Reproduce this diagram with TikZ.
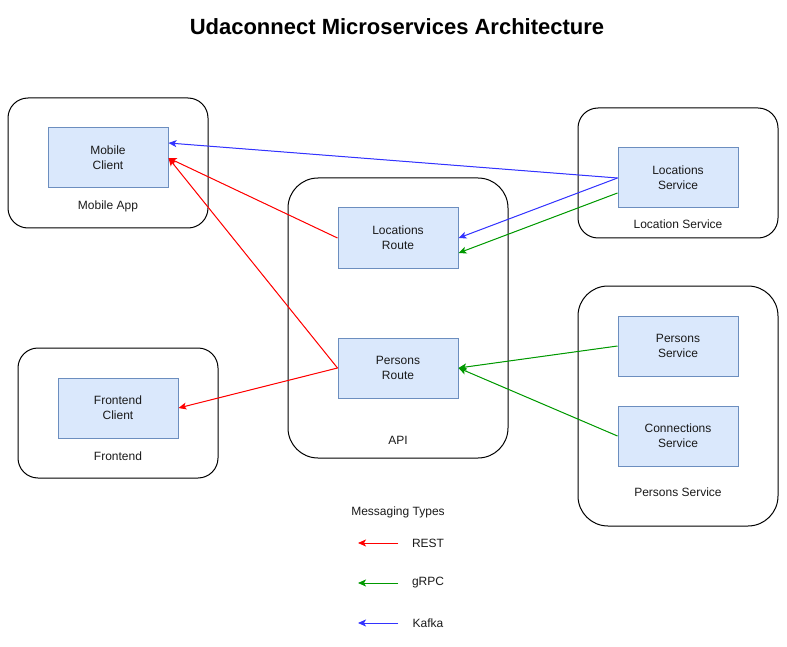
\documentclass[tikz,border=0pt]{standalone}
\usepackage{fontspec}
\setmainfont{Liberation Sans}
\usetikzlibrary{arrows.meta}
\definecolor{boxfill}{HTML}{DAE8FC}
\definecolor{boxdraw}{HTML}{6C8EBF}
\definecolor{restc}{HTML}{FF0000}
\definecolor{grpcc}{HTML}{009900}
\definecolor{kafkac}{HTML}{3333FF}
\definecolor{txt}{HTML}{1A1A1A}
\begin{document}
\begin{tikzpicture}[x=1pt,y=-1pt,
  font=\fontsize{12}{15}\selectfont,
  outerbox/.style={draw=black,line width=1pt,rounded corners=20pt,inner sep=0pt,minimum width=200pt,minimum height=130pt},
  bigbox/.style={draw=black,line width=1pt,rounded corners=30pt,inner sep=0pt},
  svcbox/.style={draw=boxdraw,fill=boxfill,line width=1pt,inner sep=0pt,minimum width=120pt,minimum height=60pt,align=center,text=txt},
  lbl/.style={text=txt,inner sep=0pt},
  conn/.style={line width=1pt,-{Stealth[length=8pt,width=7pt,inset=2pt]}},
  rest/.style={conn,draw=restc,fill=restc},
  grpc/.style={conn,draw=grpcc,fill=grpcc},
  kafka/.style={conn,draw=kafkac,fill=kafkac}]
\useasboundingbox (0,0) rectangle (787,647);
\node[font=\fontsize{22}{26}\selectfont\bfseries,inner sep=0pt] (title) at (397,27) {Udaconnect Microservices Architecture};
% outer containers
\node[outerbox] (mobapp) at (108,163) {};
\node[outerbox] (front) at (118,413) {};
\node[bigbox,minimum width=220pt,minimum height=280pt] (api) at (398,318) {};
\node[outerbox] (locgrp) at (678,173) {};
\node[bigbox,minimum width=200pt,minimum height=240pt] (persgrp) at (678,406) {};
% container labels
\node[lbl] (mobapplbl) at (108,206) {Mobile App};
\node[lbl] (frontlbl) at (118,456) {Frontend};
\node[lbl] (apilbl) at (398,440) {API};
\node[lbl] (locgrplbl) at (678,224) {Location Service};
\node[lbl] (persgrplbl) at (678,492) {Persons Service};
% inner boxes
\node[svcbox] (mobcli) at (108,158) {Mobile\\Client};
\node[svcbox] (frontcli) at (118,408) {Frontend\\Client};
\node[svcbox] (locroute) at (398,238) {Locations\\Route};
\node[svcbox] (persroute) at (398,368) {Persons\\Route};
\node[svcbox] (locsvc) at (678,178) {Locations\\Service};
\node[svcbox] (perssvc) at (678,346) {Persons\\Service};
\node[svcbox] (connsvc) at (678,436) {Connections\\Service};
% connectors
\draw[kafka] (locsvc.west) -- ([yshift=15pt]mobcli.east);
\draw[kafka] (locsvc.west) -- (locroute.east);
\draw[grpc] ([yshift=-15pt]locsvc.west) -- ([yshift=-15pt]locroute.east);
\draw[rest] (locroute.west) -- (mobcli.east);
\draw[rest] (persroute.west) -- (mobcli.east);
\draw[rest] (persroute.west) -- (frontcli.east);
\draw[grpc] (perssvc.west) -- (persroute.east);
\draw[grpc] (connsvc.west) -- (persroute.east);
% legend
\node[lbl] (legtitle) at (398,512) {Messaging Types};
\coordinate (r1) at (398,543); \coordinate (r2) at (358,543);
\coordinate (g1) at (398,583); \coordinate (g2) at (358,583);
\coordinate (k1) at (398,623); \coordinate (k2) at (358,623);
\draw[rest] (r1) -- (r2);
\draw[grpc] (g1) -- (g2);
\draw[kafka] (k1) -- (k2);
\node[lbl] (restlbl) at (428,543) {REST};
\node[lbl] (grpclbl) at (428,583) {gRPC};
\node[lbl] (kafkalbl) at (428,623) {Kafka};
\end{tikzpicture}
\end{document}
